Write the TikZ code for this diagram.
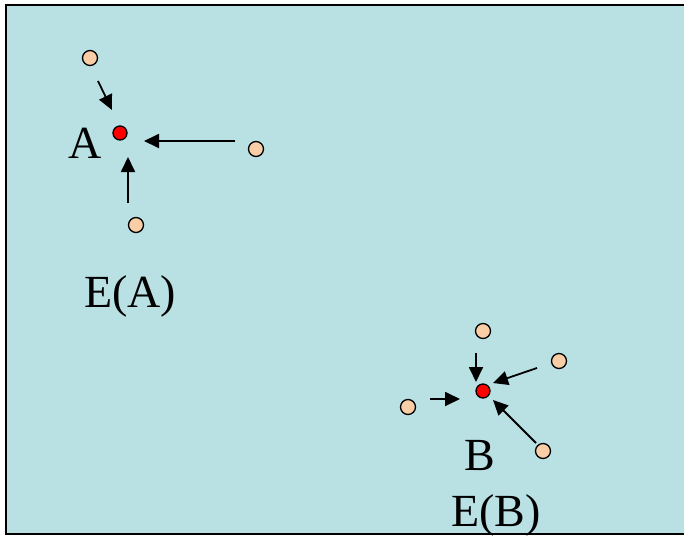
\documentclass[tikz,border=0pt]{standalone}
\usepackage{fontspec}
\setmainfont{Liberation Serif}
\usetikzlibrary{arrows.meta}
\definecolor{bgc}{RGB}{185,224,227}
\definecolor{peach}{RGB}{249,206,166}
\definecolor{redpt}{RGB}{255,0,0}
\begin{document}
\begin{tikzpicture}[x=1pt,y=-1pt,
  pt/.style={circle,draw=black,line width=1.3pt,fill=peach,minimum size=15pt,inner sep=0pt},
  cpt/.style={circle,draw=black,line width=1.3pt,fill=redpt,minimum size=14pt,inner sep=0pt},
  arr/.style={line width=1.8pt,-{Triangle[length=15pt,width=14pt]}},
  lbl/.style={font=\fontsize{46}{50}\selectfont,anchor=base,inner sep=0pt}]
\useasboundingbox (0,0) rectangle (684,536);
\begin{scope}
\clip (0,0) rectangle (684,536);
\draw[line width=2pt,fill=bgc] (6,5) rectangle (700,534);
\end{scope}
% cluster A
\node[cpt] (A) at (120,133) {};
\node[pt] (a1) at (90,58) {};
\node[pt] (a2) at (256,149) {};
\node[pt] (a3) at (136,225) {};
\coordinate (a1s) at (98,81);
\coordinate (a1e) at (112,110);
\coordinate (a2s) at (235,141);
\coordinate (a2e) at (144,141);
\coordinate (a3s) at (128,203);
\coordinate (a3e) at (128,157);
\draw[arr] (a1s) -- (a1e);
\draw[arr] (a2s) -- (a2e);
\draw[arr] (a3s) -- (a3e);
\node[lbl] (lA) at (85,158) {A};
\node[lbl] (lEA) at (130,307) {E(A)};
% cluster B
\node[cpt] (B) at (483,391) {};
\node[pt] (b1) at (483,331) {};
\node[pt] (b2) at (559,361) {};
\node[pt] (b3) at (408,407) {};
\node[pt] (b4) at (543,451) {};
\coordinate (b1s) at (476,353);
\coordinate (b1e) at (476,382);
\coordinate (b2s) at (537,368);
\coordinate (b2e) at (493,383);
\coordinate (b3s) at (430,399);
\coordinate (b3e) at (460,399);
\coordinate (b4s) at (536,443);
\coordinate (b4e) at (493,400);
\draw[arr] (b1s) -- (b1e);
\draw[arr] (b2s) -- (b2e);
\draw[arr] (b3s) -- (b3e);
\draw[arr] (b4s) -- (b4e);
\node[lbl] (lB) at (480,470) {B};
\node[lbl] (lEB) at (496,526) {E(B)};
\end{tikzpicture}
\end{document}
